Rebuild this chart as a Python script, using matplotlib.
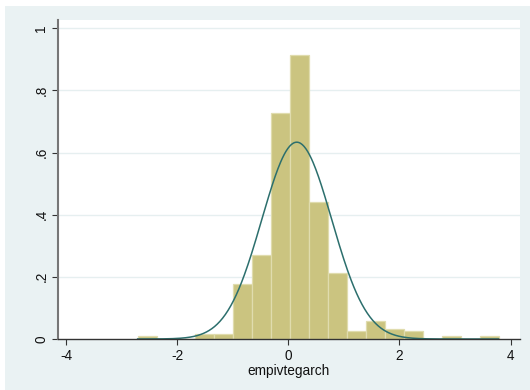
import numpy as np
import matplotlib
matplotlib.use("Agg")
import matplotlib.pyplot as plt
from matplotlib.patches import Rectangle

plt.rcParams['font.family'] = ['Liberation Sans', 'DejaVu Sans']

# histogram of empivtegarch (density scale), 19 bins
bin_start = -2.714
bin_width = 0.342
density = [0.0083, 0.0, 0.0, 0.0166, 0.0166, 0.177, 0.271, 0.726, 0.914,
           0.441, 0.211, 0.0248, 0.059, 0.0333, 0.0248, 0.0, 0.0083, 0.0, 0.0083]

# normal overlay
mu = 0.151
sd = 0.630

xticks = [-4, -2, 0, 2, 4]
yticks = [0, 0.2, 0.4, 0.6, 0.8, 1.0]
ylabels = ['0', '.2', '.4', '.6', '.8', '1']

bg = '#EAF2F3'
barcol = '#CBC480'
edgecol = '#E0DCAE'
linecol = '#2C6F6D'

fig = plt.figure(figsize=(5.3, 3.9), dpi=100, facecolor='white')
fig.patches.append(Rectangle((5 / 530, 0), 1, 1 - 6 / 390, transform=fig.transFigure,
                             facecolor=bg, edgecolor='none', zorder=-10))

ax = fig.add_axes([57.5 / 530, 1 - 339 / 390, (519.7 - 57.5) / 530, (339 - 19.5) / 390])
ax.set_zorder(1)
ax.set_facecolor('white')

edges = bin_start + bin_width * np.arange(len(density) + 1)
ax.bar(edges[:-1], density, width=bin_width, align='edge', color=barcol,
       edgecolor=edgecol, linewidth=0.9, zorder=2)

xs = np.linspace(edges[0], edges[-1], 400)
pdf = np.exp(-0.5 * ((xs - mu) / sd) ** 2) / (sd * np.sqrt(2 * np.pi))
ax.plot(xs, pdf, color=linecol, lw=1.1, zorder=3)

ax.set_xlim(-4.157, 4.165)
ax.set_ylim(0, 1.028)

for y in yticks[1:]:
    ax.axhline(y, color='#E6EFF0', lw=1.0, zorder=1)

ax.set_xticks(xticks)
ax.set_xticklabels([str(t) for t in xticks])
ax.set_yticks(yticks)
ax.set_yticklabels(ylabels, rotation=90, va='center')
ax.tick_params(axis='both', direction='out', length=4, width=0.8, color='#333333',
               labelsize=9.8, labelcolor='#111111')
ax.tick_params(axis='x', pad=3)
ax.tick_params(axis='y', pad=2.5)

ax.set_xlabel('empivtegarch', fontsize=9.8, labelpad=1, color='#111111')

for s in ['top', 'right']:
    ax.spines[s].set_visible(False)
ax.spines['left'].set_color('#777777')
ax.spines['left'].set_linewidth(1.5)
ax.spines['bottom'].set_color('#333333')
ax.spines['bottom'].set_linewidth(1.0)
ax.spines['bottom'].set_zorder(4)

fig.savefig('out.png', dpi=100, facecolor=fig.get_facecolor())
